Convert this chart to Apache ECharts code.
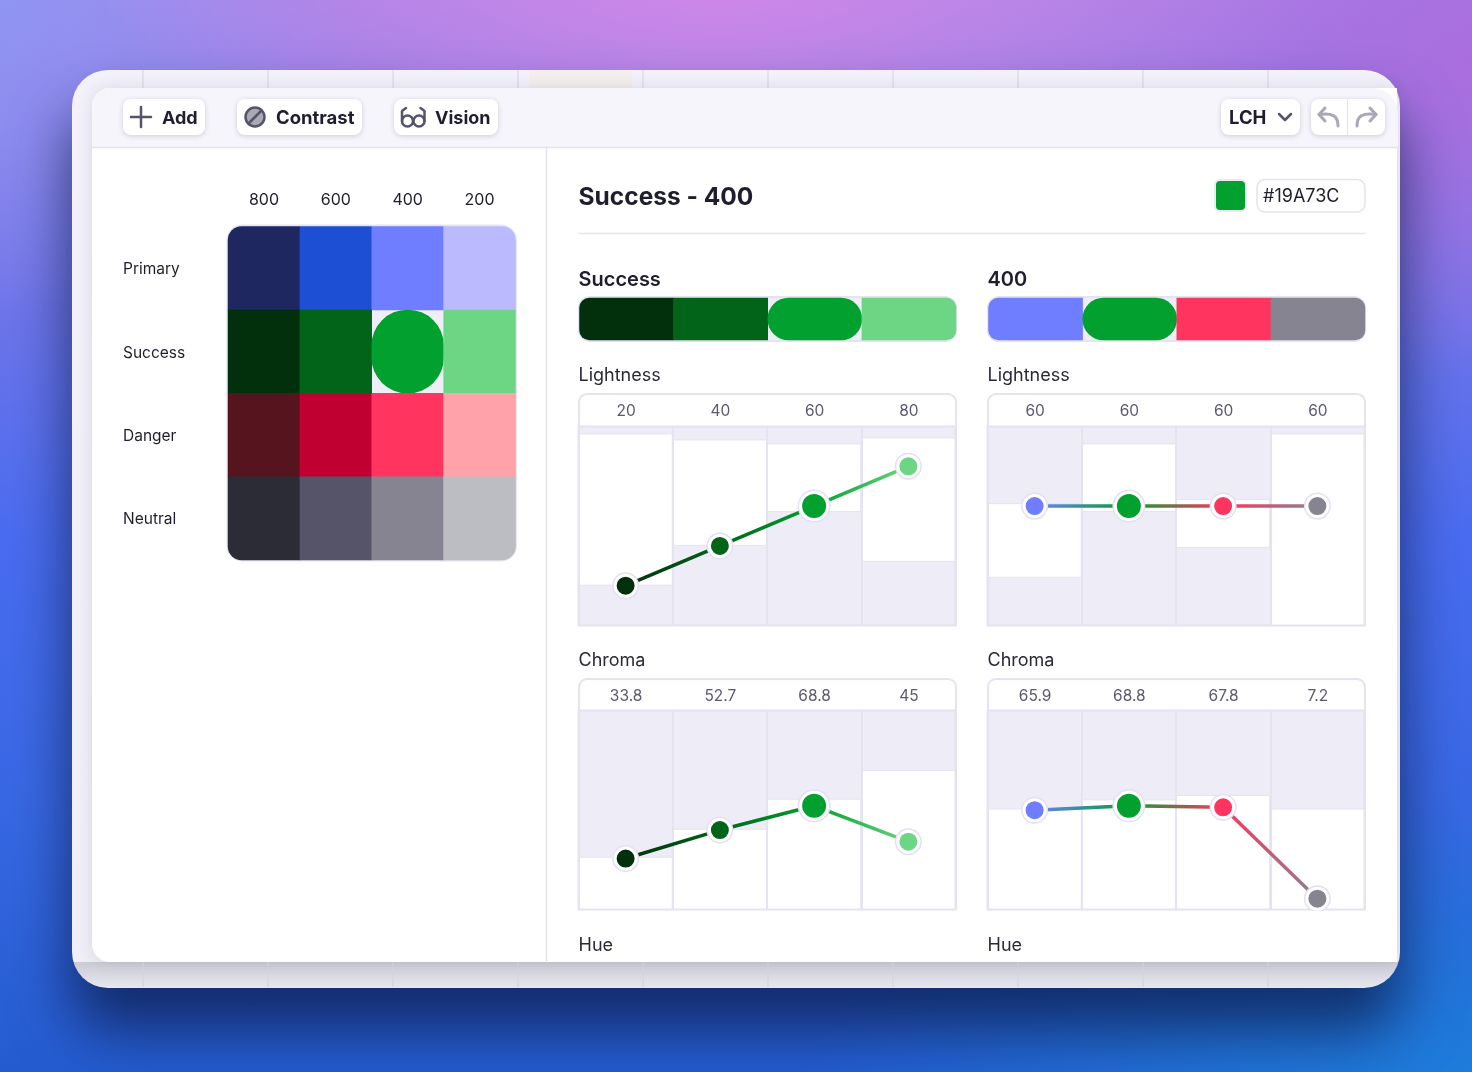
<!DOCTYPE html>
<html><head><meta charset="utf-8">
<style>
html,body{margin:0;padding:0;width:1472px;height:1072px;overflow:hidden;
background:
 radial-gradient(620px 240px at 720px -20px,#cf87e8 0,rgba(207,135,232,0) 100%),
 radial-gradient(420px 360px at -60px -40px,#8c98f6 0,rgba(140,152,246,0) 100%),
 radial-gradient(520px 320px at 1500px 60px,#ab6cde 0,rgba(171,108,222,0) 100%),
 radial-gradient(700px 300px at 1500px 1100px,#1d80dc 0,rgba(29,128,220,0) 100%),
 linear-gradient(180deg,#a284e6 0,#7a78e8 22%,#4a6cf0 50%,#3868e4 75%,#245cd0 100%);}
#c{width:1472px;height:1072px}
</style>
<script src="https://cdn.jsdelivr.net/npm/echarts@6/dist/echarts.min.js"></script>
</head><body><div id="c"></div>
<script>
// ---- data ----
const shades = ['800','600','400','200'];
const families = ['Primary','Success','Danger','Neutral'];
const primaryColors = ['#1e2760','#1c4fd4','#6f7dff','#bbb9ff'];
const successColors = ['#03300c','#016418','#02a12f','#6dd685'];
const dangerColors  = ['#55141e','#c00030','#ff355f','#ffa2a9'];
const neutralColors = ['#2c2c36','#565468','#868491','#bcbdc2'];
const shade400Colors = ['#6f7dff','#02a12f','#ff355f','#868491'];

const lightnessSuccess = [20,40,60,80];
const lightnessSuccessFloor = [20,40,57,32];
const lightnessSuccessCeil  = [96.5,93.5,91.5,94.5];
const lightness400 = [60,60,60,60];
const lightness400Floor = [24,57,39,0];
const lightness400Ceil  = [61.5,91.5,63.5,96.5];
const chromaSuccess = [33.8,52.7,68.8,45];
const chromaSuccessFloor = [0,0,0,0];
const chromaSuccessCeil  = [35,53.5,73.5,92.5];
const chroma400 = [65.9,68.8,67.8,7.2];
const chroma400Floor = [0,0,0,0];
const chroma400Ceil  = [67,73,76,67];

// ---- style ----
const FONT='Inter';
const INK='#1f1e2e', MUTED='#5c5a6f', LINE='#e4e3f0', PLOT='#edecf7', ICON='#55536a';

const el=[];
const rect=(x,y,w,h,r,fill,extra={})=>el.push({type:'rect',silent:true,z:extra.z||0,shape:{x,y,width:w,height:h,r},style:Object.assign({fill},extra.style||{})});
const text=(t,x,y,size,weight,fill)=>el.push({type:'text',silent:true,z:1,style:{text:t,x,y:y+1,fontFamily:FONT,fontSize:size,fontWeight:weight,fill,verticalAlign:'middle'}});
const line=(x1,y1,x2,y2,c,w)=>el.push({type:'line',silent:true,z:1,shape:{x1,y1,x2,y2},style:{stroke:c,lineWidth:w,lineCap:'round'}});
const poly=(pts,c,w)=>el.push({type:'polyline',silent:true,z:1,shape:{points:pts},style:{stroke:c,lineWidth:w,lineCap:'round',lineJoin:'round',fill:null}});
const circle=(cx,cy,r,fill,stroke,w)=>el.push({type:'circle',silent:true,z:1,shape:{cx,cy,r},style:{fill,stroke,lineWidth:w}});

// window
const windowFill=new echarts.graphic.LinearGradient(0,0,0,1,[
  {offset:0,color:'#f3f2fb'},{offset:0.9716,color:'#f0eff8'},{offset:0.9717,color:'#cbcbd6'},{offset:1,color:'#e7e7ef'}]);
rect(72,70,1328,918,36,windowFill,{style:{shadowBlur:60,shadowColor:'rgba(10,25,70,0.75)',shadowOffsetY:42}});
[143,268,393,518,643,768,893,1018,1143,1268].forEach(x=>{
  el.push({type:'line',silent:true,z:0,shape:{x1:x,y1:70,x2:x,y2:88},style:{stroke:'#e3e3ef',lineWidth:2}});
  el.push({type:'line',silent:true,z:0,shape:{x1:x,y1:960,x2:x,y2:987},style:{stroke:'#d6d6e0',lineWidth:1.5}});
});
rect(529,70,103,18,0,'#f3efed');
// card
rect(92,88,1305,874,[18,0,0,18],'#ffffff',{style:{shadowBlur:16,shadowColor:'rgba(40,40,70,0.14)'}});
rect(92,88,1306,59,[18,26,0,0],'#f6f5fc');
line(92,147.5,1398,147.5,LINE,1.5);
line(546.5,148,546.5,962,LINE,1.5);

// toolbar buttons
const btn=(x,w)=>rect(x,99,w,36,8,'#ffffff',{style:{shadowBlur:5,shadowColor:'rgba(50,50,90,0.22)',shadowOffsetY:1}});
btn(123,82);btn(237,125);btn(394,104);btn(1221,79);btn(1311,74);
line(1347.5,99,1347.5,135,LINE,1);
line(131,117,151,117,ICON,2.5);line(141,107,141,127,ICON,2.5);
text('Add',162,117.5,18,700,INK);
circle(255,117,9.5,'#a9a9b2',ICON,2.5);line(248.5,123.5,261.5,110.5,ICON,2.5);
text('Contrast',276,117,18.5,700,INK);
circle(407.5,121,5.5,'none',ICON,2.5);circle(419,121,5.5,'none',ICON,2.5);
poly([[402,121],[402,111],[406,108]],ICON,2.5);poly([[424.5,121],[424.5,111],[420.5,108]],ICON,2.5);
text('Vision',435,117.5,18,700,INK);
text('LCH',1229,117.5,18.5,700,INK);
poly([[1279,114],[1285,120],[1291,114]],ICON,2.5);
poly([[1325,108],[1319,114.5],[1325,121]],'#a9a8b6',3);
el.push({type:'bezierCurve',silent:true,z:1,shape:{x1:1319,y1:114.5,x2:1338,y2:126,cpx1:1332,cpy1:113,cpx2:1338,cpy2:115},style:{stroke:'#a9a8b6',lineWidth:3,fill:null,lineCap:'round'}});
poly([[1370,108],[1376,114.5],[1370,121]],'#a9a8b6',3);
el.push({type:'bezierCurve',silent:true,z:1,shape:{x1:1376,y1:114.5,x2:1357,y2:126,cpx1:1363,cpy1:113,cpx2:1357,cpy2:115},style:{stroke:'#a9a8b6',lineWidth:3,fill:null,lineCap:'round'}});

// header of detail pane
text('Success - 400',578.5,196.5,24.5,700,INK);
rect(1215,180,31,31,5,'#02a12f',{style:{stroke:'#ecebf5',lineWidth:2}});
rect(1257,179.5,108,32.5,8,'#ffffff',{style:{stroke:LINE,lineWidth:1.5}});
text('#19A73C',1263,196,18,400,INK);
line(579,233.5,1365,233.5,LINE,1.5);

// matrix and swatch frames
rect(227.5,225.5,288.5,335,15,'#efeef8',{style:{stroke:LINE,lineWidth:2}});
rect(579,297,377,44,11,'#efeef8',{style:{stroke:LINE,lineWidth:2}});
rect(988,297,377,44,11,'#efeef8',{style:{stroke:LINE,lineWidth:2}});
text('Success',578.5,279,20,600,INK);
text('400',987.5,279,20,600,INK);
[[578.5,'Lightness',375],[987.5,'Lightness',375],[578.5,'Chroma',660],[987.5,'Chroma',660],[578.5,'Hue',945],[987.5,'Hue',945]]
  .forEach(a=>text(a[1],a[0],a[2],18,400,'#2a2938'));

const grids=[], xAxes=[], yAxes=[], series=[];

function addAxes(grid,x,y){
  grids.push(grid); const i=grids.length-1;
  xAxes.push(Object.assign({gridIndex:i,type:'category',axisLine:{show:false},axisTick:{show:false},splitLine:{show:false}},x));
  yAxes.push(Object.assign({gridIndex:i,axisLine:{show:false},axisTick:{show:false},splitLine:{show:false}},y));
  return i;
}

// colour matrix
const matrixRows=[primaryColors,successColors,dangerColors,neutralColors];
const mi=addAxes({left:228,top:226.5,width:287.5,height:333.5},
  {position:'top',data:shades,axisLabel:{fontFamily:FONT,fontSize:16,color:INK,margin:18}},
  {type:'category',inverse:true,data:families,axisLabel:{fontFamily:FONT,fontSize:15.5,color:INK,align:'left',margin:105,verticalAlign:'top',lineHeight:3}});
const corner={'0,0':[14,0,0,0],'3,0':[0,14,0,0],'0,3':[0,0,0,14],'3,3':[0,0,14,0]};
const matrixData=[];
matrixRows.forEach((row,r)=>row.forEach((c,k)=>{
  const sel=(r===1&&k===2);
  matrixData.push({value:[k,r,1],itemStyle:{color:c,borderRadius:sel?36:(corner[k+','+r]||0)}});
}));
series.push({type:'heatmap',xAxisIndex:mi,yAxisIndex:mi,data:matrixData,z:2});

// swatch strips
function strip(left,colors,sel){
  const i=addAxes({left,top:298,width:376.5,height:42},
    {data:colors.map((c,k)=>k),axisLabel:{show:false}},
    {type:'category',data:['s'],axisLabel:{show:false}});
  series.push({type:'heatmap',xAxisIndex:i,yAxisIndex:i,z:2,data:colors.map((c,k)=>({
    value:[k,0,1],
    itemStyle:{color:c,borderRadius:k===sel?21:(k===0?[10,0,0,10]:(k===3?[0,10,10,0]:0))}
  }))});
}
strip(579.5,successColors,2);
strip(988.5,shade400Colors,1);

// value panels
function panel(left,top,yMax,labelGap,values,floor,ceil,colors,sel){
  const i=addAxes({z:1,show:true,left:left-0.5,top:top-0.5,width:377,height:199,backgroundColor:PLOT,borderColor:LINE,borderWidth:2},
    {position:'top',z:3,data:values.map(String),
     axisLabel:{interval:0,fontFamily:FONT,fontSize:15.5,color:MUTED,margin:labelGap,padding:[0,0,0,1]},
     splitLine:{show:true,interval:0,lineStyle:{color:LINE,width:2}}},
    {type:'value',min:0,max:yMax,show:false});
  const ax={xAxisIndex:i,yAxisIndex:i};
  const st='r'+i;
  series.push(Object.assign({type:'bar',stack:st,barWidth:'100%',silent:true,z:2,data:floor,itemStyle:{color:'transparent'}},ax));
  series.push(Object.assign({type:'bar',stack:st,barWidth:'100%',silent:true,z:2,data:ceil.map((c,k)=>c-floor[k]),
    itemStyle:{color:'#ffffff',borderColor:LINE,borderWidth:1}},ax));
  const stops=colors.map((c,k)=>({offset:k/(colors.length-1),color:c}));
  series.push(Object.assign({type:'line',z:5,data:values,showSymbol:false,silent:true,
    lineStyle:{width:3.5,color:new echarts.graphic.LinearGradient(0,0,1,0,stops)}},ax));
  series.push(Object.assign({type:'scatter',z:6,silent:true,data:values,
    symbolSize:(v,p)=>p.dataIndex===sel?33:27,itemStyle:{color:'#e2e1ef',opacity:1}},ax));
  series.push(Object.assign({type:'scatter',z:7,silent:true,
    data:values.map((v,k)=>({value:v,itemStyle:{color:colors[k]}})),
    symbolSize:(v,p)=>p.dataIndex===sel?27:21,
    itemStyle:{borderColor:'#ffffff',borderWidth:3,opacity:1}},ax));
}
function panelHeader(x,y){rect(x,y,377,40,[8,8,0,0],'#ffffff',{style:{stroke:LINE,lineWidth:2}});}
panelHeader(579,394);panelHeader(988,394);panelHeader(579,679);panelHeader(988,679);
panel(579,427,100,7,lightnessSuccess,lightnessSuccessFloor,lightnessSuccessCeil,successColors,2);
panel(988,427,100,7,lightness400,lightness400Floor,lightness400Ceil,shade400Colors,1);
panel(579,711,132,6,chromaSuccess,chromaSuccessFloor,chromaSuccessCeil,successColors,2);
panel(988,711,132,6,chroma400,chroma400Floor,chroma400Ceil,shade400Colors,1);
// trims the marker ring where the plot ends
el.push({type:'rect',silent:true,z:100,shape:{x:1298,y:911,width:38,height:5},style:{fill:'#ffffff'}});

const chart=echarts.init(document.getElementById('c'),null,{renderer:'canvas',width:1472,height:1072});
chart.setOption({animation:false,backgroundColor:'transparent',textStyle:{fontFamily:FONT},
  graphic:{elements:el},grid:grids,xAxis:xAxes,yAxis:yAxes,series});
</script></body></html>
